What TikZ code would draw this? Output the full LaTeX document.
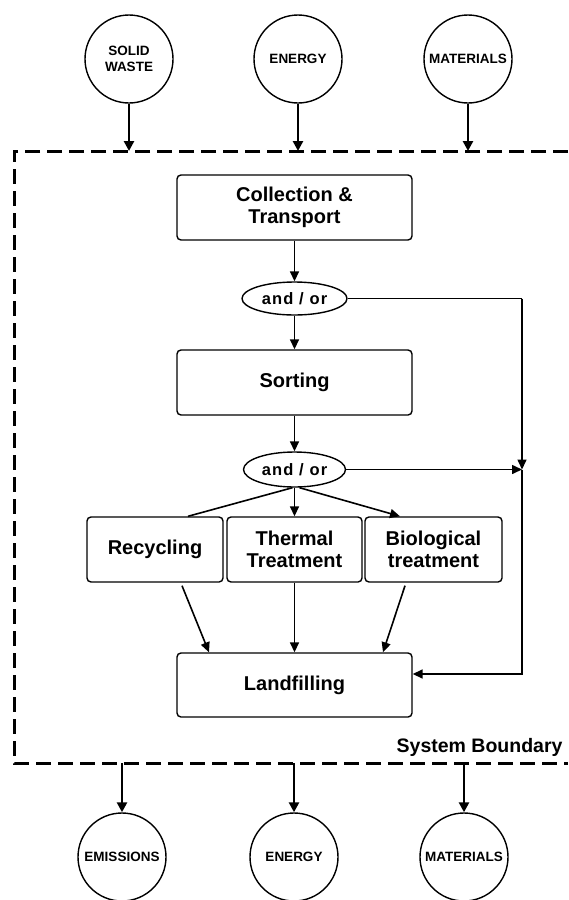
\documentclass[tikz,border=0pt]{standalone}
\usepackage{fontspec}
\setmainfont{Liberation Sans}
\usetikzlibrary{arrows.meta,shapes.geometric}
\begin{document}
\begin{tikzpicture}[x=1pt,y=-1pt,
 box/.style={draw,line width=1.4pt,rounded corners=4pt,inner sep=0pt,
   font=\fontsize{20}{22}\selectfont\bfseries,align=center},
 circ/.style={draw,circle,line width=1.4pt,minimum size=88pt,inner sep=0pt,
   font=\fontsize{13.5}{16}\selectfont\bfseries,align=center},
 andor/.style={draw,ellipse,line width=1.4pt,inner sep=0pt,
   font=\fontsize{16.5}{18}\selectfont\bfseries\addfontfeature{LetterSpace=7}},
 arr/.style={line width=1.6pt,-{Triangle[length=10pt,width=9pt]}},
 ln/.style={line width=1.6pt},
 fatarr/.style={line width=2.8pt,-{Triangle[length=10pt,width=10pt]}},
 bound/.style={line width=3pt,dash pattern=on 15pt off 7pt}
]
\useasboundingbox (0,0) rectangle (568,900);

% boundary
\draw[bound] (568,151) -- (14,151) -- (14,763) -- (568,763);
\node[anchor=base east,font=\fontsize{19.5}{22}\selectfont\bfseries] (sb) at (566,752) {System Boundary};

% input circles
\node[circ] (sw) at (129,59) {SOLID\\WASTE};
\node[circ] (en1) at (298,59) {ENERGY};
\node[circ] (ma1) at (468,59) {MATERIALS};
\coordinate (t1) at (129,151);
\coordinate (t2) at (298,151);
\coordinate (t3) at (468,151);
\draw[fatarr] (sw) -- (t1);
\draw[fatarr] (en1) -- (t2);
\draw[fatarr] (ma1) -- (t3);

% output circles
\node[circ] (em) at (122,857) {EMISSIONS};
\node[circ] (en2) at (294,857) {ENERGY};
\node[circ] (ma2) at (464,857) {MATERIALS};
\coordinate (b1) at (122,763);
\coordinate (b2) at (294,763);
\coordinate (b3) at (464,763);
\draw[fatarr] (b1) -- (em);
\draw[fatarr] (b2) -- (en2);
\draw[fatarr] (b3) -- (ma2);

% process boxes
\node[box,minimum width=235pt,minimum height=65pt] (ct) at (294.5,207.5) {Collection \&\\Transport};
\node[andor,minimum width=105pt,minimum height=33pt] (e1) at (294.5,298.5) {and / or};
\node[box,minimum width=235pt,minimum height=65pt] (so) at (294.5,382.5) {Sorting};
\node[andor,minimum width=102pt,minimum height=35pt] (e2) at (294.5,469.5) {and / or};
\node[box,minimum width=136pt,minimum height=65pt] (rec) at (155,549.5) {Recycling};
\node[box,minimum width=135pt,minimum height=65pt] (th) at (294.5,549.5) {Thermal\\Treatment};
\node[box,minimum width=137pt,minimum height=65pt] (bio) at (433.5,549.5) {Biological\\treatment};
\node[box,minimum width=235pt,minimum height=64pt] (lf) at (294.5,685) {Landfilling};

% connectors
\draw[arr] (ct) -- (e1);
\draw[arr] (e1) -- (so);
\draw[arr] (so) -- (e2);
\draw[ln] ([xshift=-2pt]e2.south) -- ([xshift=33pt]rec.north);
\draw[arr] (e2) -- (th);
\draw[arr] ([xshift=5pt]e2.south) -- ([xshift=-33.5pt]bio.north);

\draw[arr] ([xshift=27pt,yshift=-3pt]rec.south) -- ([xshift=-85.5pt]lf.north);
\draw[arr] (th) -- (lf);
\draw[arr] ([xshift=-28.5pt,yshift=-3pt]bio.south) -- ([xshift=88.5pt]lf.north);

\coordinate (r1) at (522,298.5);
\coordinate (r2) at (522,469.5);
\coordinate (r3) at (522,674);
\draw[ln] (e1.east) -- (r1);
\draw[arr] (r1) -- (r2);
\draw[arr] (e2.east) -- (r2);
\draw[arr] (r2) -- (r3) -- (r3 -| lf.east);
\end{tikzpicture}
\end{document}
